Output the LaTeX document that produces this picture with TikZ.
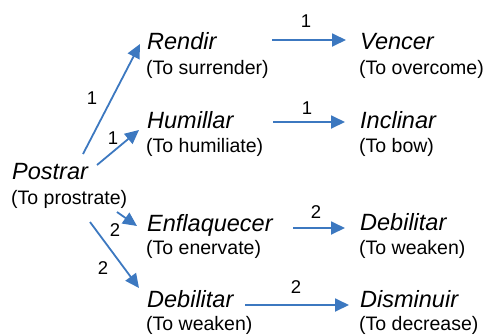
\documentclass[tikz,border=0pt]{standalone}
\usepackage{fontspec}
\setmainfont{Liberation Sans}
\usetikzlibrary{arrows.meta,calc}
\definecolor{arrblue}{RGB}{60,120,192}
\tikzset{
  word/.style={anchor=base west,inner sep=0pt,font=\fontsize{23.5}{28}\selectfont\itshape},
  gloss/.style={anchor=base west,inner sep=0pt,font=\fontsize{19.5}{23}\selectfont},
  lab/.style={inner sep=0pt,font=\fontsize{18.5}{21}\selectfont},
  arr/.style={draw=arrblue,line width=1.8pt,-{Triangle[length=14pt,width=13pt]},arrblue}
}
\begin{document}
\begin{tikzpicture}[x=1pt,y=-1pt]
\useasboundingbox (0,0) rectangle (489,335);
% words
\node[word] (wRendir) at (147,49) {Rendir};
\node[gloss] (gRendir) at (146,74) {(To surrender)};
\node[word] (wVencer) at (360,49) {Vencer};
\node[gloss] (gVencer) at (359,74) {(To overcome)};
\node[word] (wHumillar) at (147,128) {Humillar};
\node[gloss] (gHumillar) at (146,152) {(To humiliate)};
\node[word] (wInclinar) at (360,128) {Inclinar};
\node[gloss] (gInclinar) at (359,152) {(To bow)};
\node[word] (wPostrar) at (12,179) {Postrar};
\node[gloss] (gPostrar) at (11,204) {(To prostrate)};
\node[word] (wEnfl) at (147,231) {Enflaquecer};
\node[gloss] (gEnfl) at (146,254) {(To enervate)};
\node[word] (wDebR) at (360,230) {Debilitar};
\node[gloss] (gDebR) at (359,254) {(To weaken)};
\node[word] (wDebL) at (147,307) {Debilitar};
\node[gloss] (gDebL) at (146,330) {(To weaken)};
\node[word] (wDism) at (360,307) {Disminuir};
\node[gloss] (gDism) at (359,330) {(To decrease)};
% arrows
\draw[arr] ($(wPostrar.base west)+(71,-25)$) -- ($(wRendir.base west)+(-7,-5)$);
\draw[arr] ($(wPostrar.base west)+(85,-14)$) -- ($(wHumillar.base west)+(-8,2)$);
\draw[arr] ($(gPostrar.base west)+(106,8)$) -- ($(wEnfl.base west)+(-10,-5)$);
\draw[arr] ($(gPostrar.base west)+(79,18)$) -- ($(wDebL.base west)+(-8,-19)$);
\draw[arr] ($(wRendir.base west)+(125,-9)$) -- ($(wVencer.base west)+(-14,-9)$);
\draw[arr] ($(wHumillar.base west)+(126,-6)$) -- ($(wInclinar.base west)+(-15,-6)$);
\draw[arr] ($(wEnfl.base west)+(146,-3)$) -- ($(wDebR.base west)+(-15,-2)$);
\draw[arr] ($(wDebL.base west)+(98,-2)$) -- ($(wDism.base west)+(-11,-2)$);
% labels
\node[lab] (l1) at (92,98) {1};
\node[lab] (l2) at (113,138) {1};
\node[lab] (l3) at (306,21) {1};
\node[lab] (l4) at (307,108) {1};
\node[lab] (l5) at (115,230) {2};
\node[lab] (l6) at (103,268) {2};
\node[lab] (l7) at (316,212) {2};
\node[lab] (l8) at (296,287) {2};
\end{tikzpicture}
\end{document}
